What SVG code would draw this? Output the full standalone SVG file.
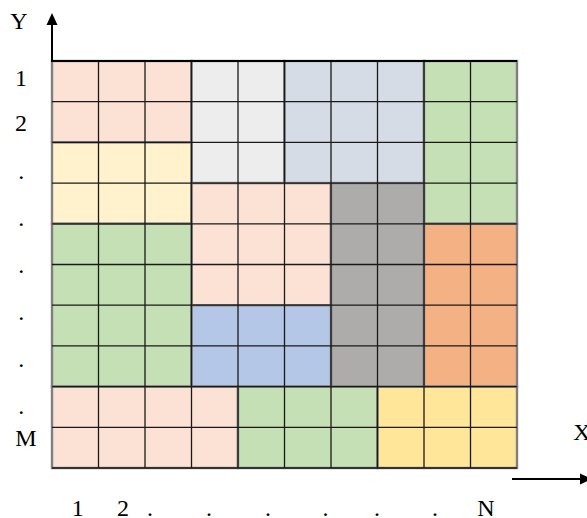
<svg xmlns="http://www.w3.org/2000/svg" width="587" height="518" viewBox="0 0 587 518">
<style>
.t{font-family:"Liberation Serif","Times New Roman",serif;font-size:24px;fill:#000;text-anchor:middle}
.reg{stroke:#7f7f7f;stroke-width:2.4}
.pink{fill:#FBE2D5}.lgray{fill:#EDEDED}.bgray{fill:#D6DCE5}.green{fill:#C5E0B4}
.yellow{fill:#FFF2CC}.dgray{fill:#AEABAB}.orange{fill:#F4B183}.blue{fill:#B4C7E7}.gold{fill:#FFE699}
.grid{stroke:#1a1a1a;stroke-width:1.3;fill:none}
.axis{stroke:#000;stroke-width:2;fill:none}
</style>
<rect width="587" height="518" fill="#fff"/>
<g id="regions">
<g id="r1"><rect class="reg pink" x="52" y="61" width="139.5" height="81.4"/></g>
<g id="r2"><rect class="reg lgray" x="191.5" y="61" width="93" height="122.1"/></g>
<g id="r3"><rect class="reg bgray" x="284.5" y="61" width="139.5" height="122.1"/></g>
<g id="r4"><rect class="reg green" x="424" y="61" width="93" height="162.8"/></g>
<g id="r5"><rect class="reg yellow" x="52" y="142.4" width="139.5" height="81.4"/></g>
<g id="r6"><rect class="reg pink" x="191.5" y="183.1" width="139.5" height="122.1"/></g>
<g id="r7"><rect class="reg dgray" x="331" y="183.1" width="93" height="203.5"/></g>
<g id="r8"><rect class="reg green" x="52" y="223.8" width="139.5" height="162.8"/></g>
<g id="r9"><rect class="reg orange" x="424" y="223.8" width="93" height="162.8"/></g>
<g id="r10"><rect class="reg blue" x="191.5" y="305.2" width="139.5" height="81.4"/></g>
<g id="r11"><rect class="reg pink" x="52" y="386.6" width="186" height="81.4"/></g>
<g id="r12"><rect class="reg green" x="238" y="386.6" width="139.5" height="81.4"/></g>
<g id="r13"><rect class="reg gold" x="377.5" y="386.6" width="139.5" height="81.4"/></g>
</g>
<g id="gridlines">
<path class="grid" d="M98.5 61V468M145 61V468M191.5 61V468M238 61V468M284.5 61V468M331 61V468M377.5 61V468M424 61V468M470.5 61V468
M52 101.7H517M52 142.4H517M52 183.1H517M52 223.8H517M52 264.5H517M52 305.2H517M52 345.9H517M52 386.6H517M52 427.3H517"/>
<path class="grid" d="M52 468H517"/>
</g>
<g id="axes">
<path class="axis" d="M52 62V25M51 61H517"/>
<polygon points="52,13 46.5,25 57.5,25" fill="#000"/>
<path class="axis" d="M512 479H581"/>
<polygon points="580,473.5 592,479 580,484.5" fill="#000"/>
</g>
<g id="labels">
<text class="t" x="19" y="29">Y</text>
<text class="t" x="582" y="440">X</text>
<text class="t" x="21" y="86">1</text>
<text class="t" x="21" y="131">2</text>
<text class="t" x="21.3" y="179">.</text>
<text class="t" x="21.3" y="226">.</text>
<text class="t" x="21.3" y="273">.</text>
<text class="t" x="21.3" y="320">.</text>
<text class="t" x="21.3" y="367">.</text>
<text class="t" x="21.3" y="414">.</text>
<text class="t" x="26" y="446">M</text>
<text class="t" x="77.7" y="515.5">1</text>
<text class="t" x="123" y="515.5">2</text>
<text class="t" x="150" y="515.5">.</text>
<text class="t" x="209" y="515.5">.</text>
<text class="t" x="268" y="515.5">.</text>
<text class="t" x="325.5" y="515.5">.</text>
<text class="t" x="377" y="515.5">.</text>
<text class="t" x="435" y="515.5">.</text>
<text class="t" x="486" y="515.5">N</text>
</g>
</svg>
